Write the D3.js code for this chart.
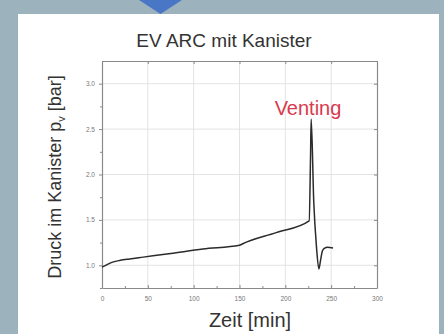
<!doctype html>
<html>
<head>
<meta charset="utf-8">
<title>EV ARC mit Kanister</title>
<style>
  html, body { margin: 0; padding: 0; background: #9cb2bd; }
  svg { display: block; }
</style>
</head>
<body>
<div id="here"></div>
<script src="https://d3js.org/d3.v7.min.js"></script>
<script>
  // abmessungen
  var w = 444, h = 334;

  // daten: zeit [min] und druck [bar]
  var zeit  = [0, 4, 10, 20, 30, 45, 75, 110, 150, 153, 190, 226, 227.5, 228.2, 231, 234, 236.6, 238.5, 240.5, 243, 246, 252];
  var druck = [0.98, 1.0, 1.03, 1.055, 1.07, 1.09, 1.13, 1.18, 1.22, 1.235, 1.36, 1.49, 2.2, 2.61, 1.7, 1.2, 0.96, 1.06, 1.16, 1.19, 1.2, 1.19];
  var xTicks = [0, 50, 100, 150, 200, 250, 300];
  var yTicks = [1.0, 1.5, 2.0, 2.5, 3.0];

  var svg = d3.select("#here").append("svg")
    .attr("width", w)
    .attr("height", h);

  // hintergrund + weisses feld
  svg.append("rect").attr("width", w).attr("height", h).attr("fill", "#9cb2bd");
  svg.append("rect").attr("x", 18).attr("y", 14).attr("width", 421).attr("height", 320).attr("fill", "#ffffff");

  // blauer pfeil oben
  svg.append("path")
    .attr("d", "M139,0 L182,0 L160.5,14 Z")
    .attr("fill", "#4a76c6");

  var pl = 102, pr = 377, pt = 61, pb = 288;

  var x = d3.scaleLinear().domain([0, 300]).range([pl, pr]);
  var y = d3.scaleLinear().domain([0.75, 3.25]).range([pb, pt]);

  // gitter
  svg.append("g").selectAll("line").data(xTicks.slice(1, -1)).enter().append("line")
    .attr("x1", function(d) { return x(d); }).attr("x2", function(d) { return x(d); })
    .attr("y1", pt).attr("y2", pb)
    .attr("stroke", "#dcdcdc").attr("stroke-width", 0.8);
  svg.append("g").selectAll("line").data(yTicks).enter().append("line")
    .attr("y1", function(d) { return y(d); }).attr("y2", function(d) { return y(d); })
    .attr("x1", pl).attr("x2", pr)
    .attr("stroke", "#dcdcdc").attr("stroke-width", 0.8);

  // achsen (unten, links, oben, rechts)
  var font = "Liberation Sans, Arial, sans-serif";
  var tickStyle = function(g) {
    g.select(".domain").attr("stroke", "#8a8a8a").attr("stroke-width", 1.2);
    g.selectAll(".tick line").attr("stroke", "#8a8a8a");
    g.selectAll("text").attr("fill", "#777").style("font-family", font).style("font-size", "6.5px");
  };

  var xMinor = d3.range(25, 300, 50);
  var yMinor = d3.range(0.75, 3.25, 0.5);

  svg.append("g").attr("transform", "translate(0," + pb + ")")
    .call(d3.axisBottom(x).tickValues(xTicks).tickFormat(d3.format("d")).tickSizeInner(-3).tickSizeOuter(0).tickPadding(8))
    .call(tickStyle);
  svg.append("g").attr("transform", "translate(0," + pb + ")")
    .call(d3.axisBottom(x).tickValues(xMinor).tickFormat("").tickSizeInner(-2).tickSizeOuter(0))
    .call(tickStyle).select(".domain").remove();

  svg.append("g").attr("transform", "translate(" + pl + ",0)")
    .call(d3.axisLeft(y).tickValues(yTicks).tickFormat(d3.format(".1f")).tickSizeInner(3).tickSizeOuter(0).tickPadding(4))
    .call(tickStyle);
  svg.append("g").attr("transform", "translate(" + pl + ",0)")
    .call(d3.axisLeft(y).tickValues(yMinor).tickFormat("").tickSizeInner(2).tickSizeOuter(0))
    .call(tickStyle).select(".domain").remove();

  svg.append("g").attr("transform", "translate(0," + pt + ")")
    .call(d3.axisTop(x).tickValues(xTicks).tickFormat("").tickSizeInner(-3).tickSizeOuter(0))
    .call(tickStyle);
  svg.append("g").attr("transform", "translate(" + pr + ",0)")
    .call(d3.axisRight(y).tickValues(yTicks).tickFormat("").tickSizeInner(-3).tickSizeOuter(0))
    .call(tickStyle);

  // kurve
  var punkte = zeit.map(function(t, i) { return [t, druck[i]]; });
  var linie = d3.line()
    .x(function(d) { return x(d[0]); })
    .y(function(d) { return y(d[1]); })
    .curve(d3.curveMonotoneX);
  svg.append("path")
    .datum(punkte)
    .attr("d", linie)
    .attr("fill", "none")
    .attr("stroke", "#2b2b2b")
    .attr("stroke-width", 1.5);

  // texte
  svg.append("text")
    .attr("x", 224).attr("y", 47)
    .attr("text-anchor", "middle")
    .style("font-family", font).style("font-size", "19px")
    .attr("fill", "#333")
    .text("EV ARC mit Kanister");

  svg.append("text")
    .attr("x", 308).attr("y", 115)
    .attr("text-anchor", "middle")
    .style("font-family", font).style("font-size", "20px")
    .attr("fill", "#d93a4c")
    .text("Venting");

  svg.append("text")
    .attr("x", 250).attr("y", 327)
    .attr("text-anchor", "middle")
    .style("font-family", font).style("font-size", "20px")
    .attr("fill", "#333")
    .text("Zeit [min]");

  var yl = svg.append("text")
    .attr("transform", "translate(61,177) rotate(-90)")
    .attr("text-anchor", "middle")
    .style("font-family", font).style("font-size", "18px")
    .attr("fill", "#333");
  yl.append("tspan").text("Druck im Kanister p");
  yl.append("tspan").attr("dy", 4).style("font-size", "11px").text("v");
  yl.append("tspan").attr("dy", -4).text(" [bar]");
</script>
</body>
</html>
